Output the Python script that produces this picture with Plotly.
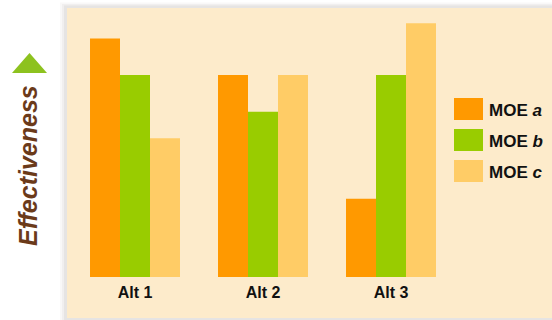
import plotly.graph_objects as go

categories = ["Alt 1", "Alt 2", "Alt 3"]
series_names = ["a", "b", "c"]
moe_a = [9.45, 8.0, 3.1]
moe_b = [8.0, 6.55, 8.0]
moe_c = [5.5, 8.0, 10.05]
colors = ["#FF9900", "#99CC00", "#FFCC66"]

W, H = 552, 320
L, R, T, B = 71, 97, 12, 43
pw, ph = W - L - R, H - T - B

def px(x):
    return (x - L) / pw

def py(y):
    return (H - B - y) / ph

fig = go.Figure()
for name, vals, col in zip(series_names, [moe_a, moe_b, moe_c], colors):
    fig.add_trace(go.Bar(
        x=categories, y=vals, name="MOE " + name,
        marker=dict(color=col, line=dict(width=0)),
        showlegend=False,
    ))

shapes = []
# shadow layers
for i, op in enumerate([0.04, 0.05, 0.07]):
    off = 7 - i * 2
    shapes.append(dict(type="rect", xref="paper", yref="paper",
                       x0=px(67 - off), x1=px(560), y0=py(318 + 2), y1=py(8 - off * 0.8),
                       fillcolor="rgba(90,80,70,%s)" % op, line=dict(width=0), layer="below"))
# panel
shapes.append(dict(type="rect", xref="paper", yref="paper",
                   x0=px(67), x1=px(560), y0=py(318), y1=py(8),
                   fillcolor="#FDEBCB", line=dict(width=0), layer="below"))
# arrow triangle
shapes.append(dict(type="path", xref="paper", yref="paper",
                   path="M %f %f L %f %f L %f %f Z" % (px(12), py(73), px(47), py(73), px(29.5), py(53)),
                   fillcolor="#8DC21F", line=dict(width=0), layer="above"))

annotations = []
row_y = [109, 140, 171]
for name, col, yc in zip(series_names, colors, row_y):
    shapes.append(dict(type="rect", xref="paper", yref="paper",
                       x0=px(454), x1=px(483), y0=py(yc + 11), y1=py(yc - 11),
                       fillcolor=col, line=dict(width=0), layer="above"))
    annotations.append(dict(xref="paper", yref="paper", x=px(487), y=py(yc + 1),
                            xanchor="left", yanchor="middle", showarrow=False,
                            text="<b>MOE <i>%s</i></b>" % name,
                            font=dict(family="Liberation Sans, Arial", size=17, color="#111111")))

annotations.append(dict(xref="paper", yref="paper", x=px(28), y=py(166),
                        xanchor="center", yanchor="middle", showarrow=False, textangle=-90,
                        text="<b><i>Effectiveness</i></b>",
                        font=dict(family="Liberation Sans, Arial", size=25, color="#6B3A1A")))

fig.update_layout(
    width=W, height=H,
    margin=dict(l=L, r=R, t=T, b=B),
    paper_bgcolor="white", plot_bgcolor="rgba(0,0,0,0)",
    barmode="group", bargap=0.297, bargroupgap=0,
    shapes=shapes, annotations=annotations,
    xaxis=dict(range=[-0.5, 2.5], showgrid=False, zeroline=False, showline=False,
               ticks="", ticklabelstandoff=4,
               tickfont=dict(family="Liberation Sans, Arial", size=16, color="#111111"),
               tickprefix="<b>", ticksuffix="</b>"),
    yaxis=dict(range=[0, 10.5], showgrid=False, zeroline=False, showline=False,
               showticklabels=False, ticks=""),
    showlegend=False,
)

fig.write_html("out.html")
